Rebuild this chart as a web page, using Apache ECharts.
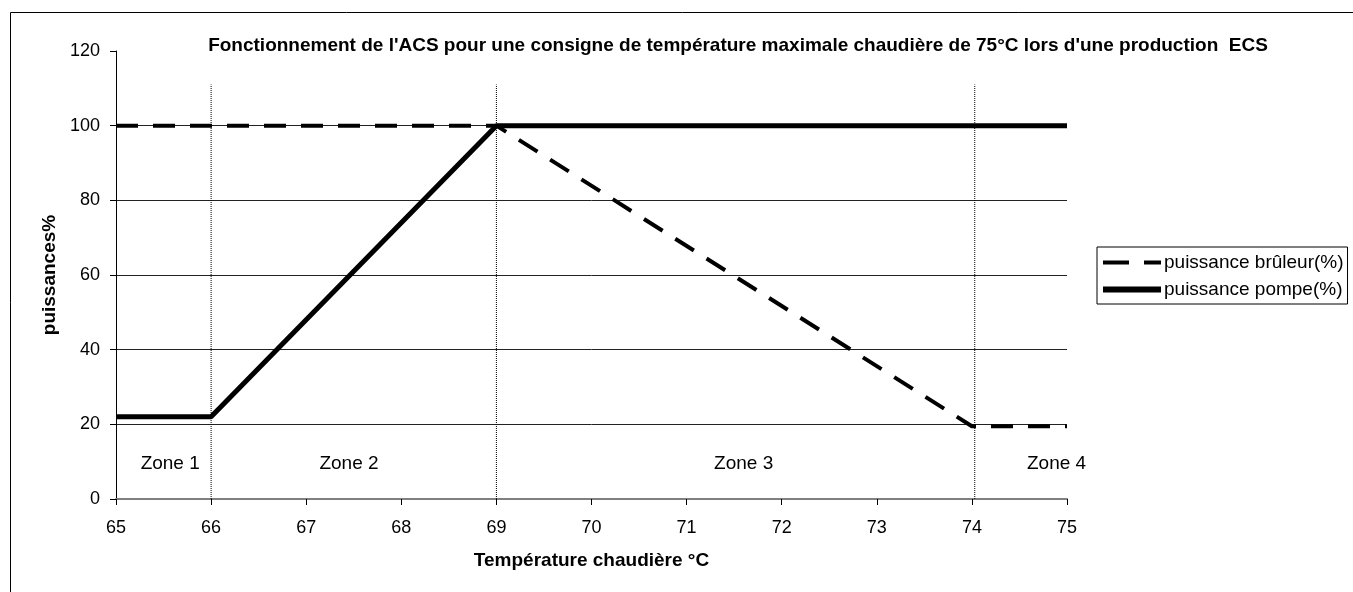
<!DOCTYPE html>
<html>
<head>
<meta charset="utf-8">
<script src="https://cdn.jsdelivr.net/npm/echarts@6/dist/echarts.min.js"></script>
<style>
  html, body { margin: 0; padding: 0; background: #fff; }
  #chart { width: 1353px; height: 592px; }
</style>
</head>
<body>
<div id="chart"></div>
<script>
// données
const bruleurX = [65, 69, 74, 75];
const bruleurY = [100, 100, 19.5, 19.5];
const pompeX = [65, 66, 69, 75];
const pompeY = [22, 22, 100, 100];

// limites des zones (pointillés verticaux)
const zoneLimits = [66, 69, 74.03];
const zoneTop = 111;

// étiquettes des zones
const zoneNames = ['Zone 1', 'Zone 2', 'Zone 3', 'Zone 4'];
const zoneLabelX = [65.57, 67.45, 71.6, 74.89];
const zoneLabelY = 9.5;

const font = 'Liberation Sans, Arial, sans-serif';

function pairs(xs, ys) {
    return xs.map((x, i) => [x, ys[i]]);
}

const myChart = echarts.init(document.getElementById('chart'));

// une série par limite de zone
const zoneSeries = zoneLimits.map(x => ({
    type: 'line',
    data: [[x, 0], [x, zoneTop]],
    symbol: 'none',
    silent: true,
    lineStyle: { color: '#000', width: 1, type: [1, 1] },
    z: 1
}));

const option = {
    backgroundColor: '#fff',
    animation: false,
    textStyle: { fontFamily: font },
    title: {
        text: "Fonctionnement de l'ACS pour une consigne de température maximale chaudière de 75°C lors d'une production  ECS",
        left: 733,
        textAlign: 'center',
        top: 31,
        textStyle: { fontSize: 19, fontWeight: 'bold', color: '#000', fontFamily: font }
    },
    graphic: [{
        type: 'rect',
        shape: { x: 10.5, y: 12.5, width: 1400, height: 700 },
        style: { fill: 'none', stroke: '#000', lineWidth: 1 },
        silent: true
    }],
    legend: {
        orient: 'vertical',
        left: 1097,
        top: 247,
        width: 254,
        padding: [6, 4, 5, 3],
        itemWidth: 58,
        itemHeight: 14,
        itemGap: 8,
        borderColor: '#000',
        borderWidth: 1,
        backgroundColor: '#fff',
        itemStyle: { opacity: 0 },
        textStyle: { fontSize: 19, color: '#000', fontFamily: font, padding: [0, 8, 0, -2] },
        data: [
            { name: 'puissance brûleur(%)', lineStyle: { color: '#000', width: 4, type: [26, 15] } },
            { name: 'puissance pompe(%)', lineStyle: { color: '#000', width: 6 } }
        ]
    },
    grid: {
        left: 116,
        right: 286,
        top: 51,
        bottom: 93
    },
    xAxis: {
        type: 'value',
        min: 65,
        max: 75,
        interval: 1,
        name: 'Température chaudière °C',
        nameLocation: 'middle',
        nameGap: 52,
        nameTextStyle: { fontSize: 19, fontWeight: 'bold', color: '#000', fontFamily: font },
        axisLine: { show: true, lineStyle: { color: '#808080', width: 2 } },
        axisTick: { show: true, length: 6, lineStyle: { color: '#000' } },
        axisLabel: { fontSize: 18, color: '#000', margin: 20 },
        splitLine: { show: false }
    },
    yAxis: {
        type: 'value',
        min: 0,
        max: 120,
        interval: 20,
        name: 'puissances%',
        nameLocation: 'middle',
        nameGap: 56,
        nameTextStyle: { fontSize: 19, fontWeight: 'bold', color: '#000', fontFamily: font },
        axisLine: { show: true, lineStyle: { color: '#000', width: 1 } },
        axisTick: { show: true, length: 6, lineStyle: { color: '#000' } },
        axisLabel: { fontSize: 18, color: '#000', margin: 16 },
        splitLine: {
            show: true,
            showMinLine: false,
            showMaxLine: false,
            lineStyle: { color: '#222', width: 1 }
        }
    },
    series: [
        ...zoneSeries,
        {
            name: 'puissance brûleur(%)',
            type: 'line',
            data: pairs(bruleurX, bruleurY),
            symbol: 'none',
            lineStyle: { color: '#000', width: 4, type: [22, 15] },
            itemStyle: { color: '#000' },
            z: 3
        },
        {
            name: 'puissance pompe(%)',
            type: 'line',
            data: pairs(pompeX, pompeY),
            symbol: 'none',
            lineStyle: { color: '#000', width: 5 },
            itemStyle: { color: '#000' },
            z: 4
        },
        {
            type: 'scatter',
            data: zoneNames.map((n, i) => ({ value: [zoneLabelX[i], zoneLabelY], name: n })),
            symbolSize: 0,
            silent: true,
            itemStyle: { color: '#000', opacity: 1 },
            label: {
                show: true,
                position: 'inside',
                formatter: p => p.name,
                fontSize: 19,
                color: '#000',
                opacity: 1,
                fontFamily: font
            }
        }
    ]
};

myChart.setOption(option);

window.addEventListener('resize', () => {
    myChart.resize();
});
</script>
</body>
</html>
